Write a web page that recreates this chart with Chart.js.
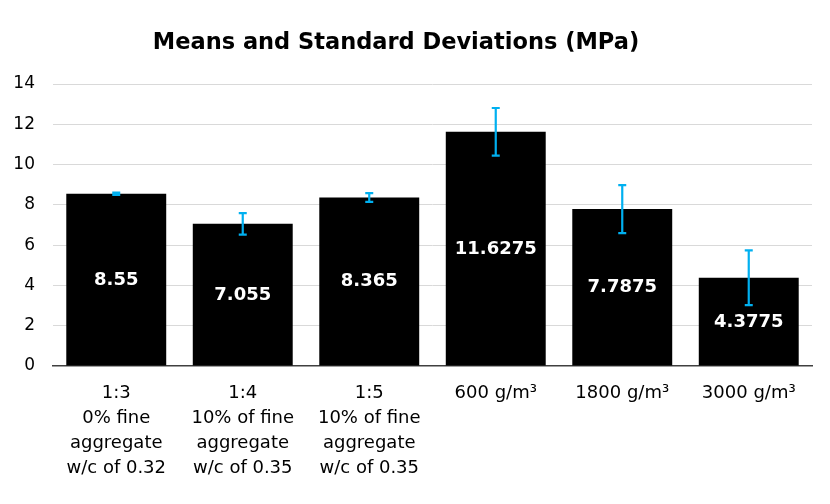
<!DOCTYPE html>
<html>
<head>
<meta charset="utf-8">
<script src="https://cdn.jsdelivr.net/npm/chart.js@4.4.1/dist/chart.umd.min.js"></script>
<style>
html,body{margin:0;padding:0;background:#fff;}
#wrap{width:830px;height:504px;}
</style>
</head>
<body>
<div id="wrap"><canvas id="c" width="830" height="504"></canvas></div>
<script>
const categories = [
  ["1:3","0% fine","aggregate","w/c of 0.32"],
  ["1:4","10% of fine","aggregate","w/c of 0.35"],
  ["1:5","10% of fine","aggregate","w/c of 0.35"],
  ["600 g/m³"],
  ["1800 g/m³"],
  ["3000 g/m³"]
];
const means = [8.55, 7.055, 8.365, 11.6275, 7.7875, 4.3775];
const stdDevs = [0.06, 0.535, 0.22, 1.18, 1.19, 1.36];
const yTicks = [0, 2, 4, 6, 8, 10, 12, 14];

const FONT = "'DejaVu Sans', Verdana, sans-serif";

const errorBarPlugin = {
  id: 'errorBars',
  afterDatasetsDraw(chart) {
    const ctx = chart.ctx;
    const meta = chart.getDatasetMeta(0);
    const y = chart.scales.y;
    ctx.save();
    ctx.fillStyle = '#ffffff';
    ctx.font = "bold 18px " + FONT;
    ctx.textAlign = 'center';
    ctx.textBaseline = 'middle';
    meta.data.forEach((bar, i) => {
      const mid = (y.getPixelForValue(means[i]) + y.getPixelForValue(0)) / 2;
      ctx.fillText(String(means[i]), bar.x, mid);
    });
    ctx.strokeStyle = '#00B0F0';
    ctx.lineWidth = 2.2;
    meta.data.forEach((bar, i) => {
      const top = y.getPixelForValue(means[i] + stdDevs[i]);
      const bot = y.getPixelForValue(means[i] - stdDevs[i]);
      const cap = 4;
      ctx.beginPath();
      ctx.moveTo(bar.x, top); ctx.lineTo(bar.x, bot);
      ctx.moveTo(bar.x - cap, top); ctx.lineTo(bar.x + cap, top);
      ctx.moveTo(bar.x - cap, bot); ctx.lineTo(bar.x + cap, bot);
      ctx.stroke();
    });
    ctx.restore();
  }
};

new Chart(document.getElementById('c'), {
  type: 'bar',
  data: {
    labels: categories,
    datasets: [{
      data: means,
      backgroundColor: '#000000',
      borderWidth: 0,
      categoryPercentage: 0.79,
      barPercentage: 1.0
    }]
  },
  options: {
    responsive: false,
    animation: false,
    layout: { padding: { left: -20, right: 18, top: 30, bottom: 8 } },
    plugins: {
      legend: { display: false },
      tooltip: { enabled: false },
      title: {
        display: true,
        text: 'Means and Standard Deviations (MPa)',
        color: '#000000',
        font: { family: FONT, size: 22.5, weight: 'bold', lineHeight: 1.2 },
        padding: { top: 0, bottom: 27 }
      }
    },
    scales: {
      x: {
        grid: { display: false, drawTicks: false },
        border: { display: true, color: '#404040', width: 1.5 },
        ticks: {
          color: '#000000',
          font: { family: FONT, size: 18, lineHeight: 1.39 },
          padding: 15,
          maxRotation: 0,
          autoSkip: false
        }
      },
      y: {
        min: 0,
        max: 14,
        afterBuildTicks(scale) { scale.ticks = yTicks.map(v => ({ value: v })); },
        afterFit(scale) { scale.width = 73; },
        grid: { color: '#d9d9d9', lineWidth: 1, drawTicks: false },
        border: { display: false },
        ticks: {
          color: '#000000',
          font: { family: FONT, size: 17 },
          padding: 18
        }
      }
    }
  },
  plugins: [errorBarPlugin]
});
</script>
</body>
</html>
